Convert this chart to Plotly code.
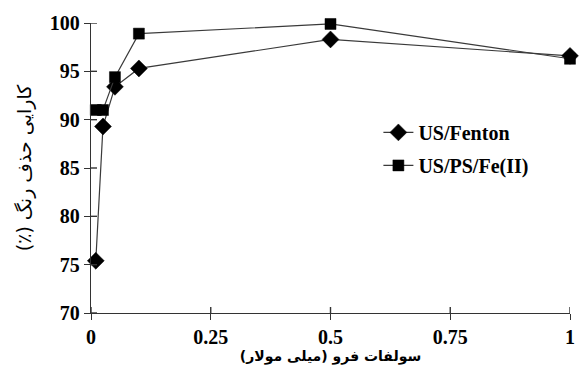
import plotly.graph_objects as go

# Ferrous sulfate dose (mM) and colour removal efficiency (%)
dose = [0.01, 0.025, 0.05, 0.1, 0.5, 1.0]
us_fenton = [75.4, 89.3, 93.4, 95.3, 98.3, 96.6]
us_ps_fe = [91.0, 91.0, 94.4, 98.9, 99.9, 96.3]

x_ticks = [0, 0.25, 0.5, 0.75, 1]
x_tick_text = ["0", "0.25", "0.5", "0.75", "1"]
y_ticks = [70, 75, 80, 85, 90, 95, 100]
x_range = [0, 1]
y_range = [70, 100]

serif = "Liberation Serif, Times New Roman, serif"
arabic = "DejaVu Sans"
axis_col = "#333333"
RLM = "\u200f"  # keeps the closing parenthesis inside the right-to-left run
TICK = 6

fig = go.Figure()
fig.add_trace(go.Scatter(
    x=dose, y=us_fenton, name="US/Fenton", mode="lines+markers",
    line=dict(color="#3a3a3a", width=1.2),
    marker=dict(symbol="diamond", size=13, color="black",
                line=dict(color="black", width=0.5)),
    cliponaxis=False, legendgroup="a",
))
fig.add_trace(go.Scatter(
    x=dose, y=us_ps_fe, name="US/PS/Fe(II)", mode="lines+markers",
    line=dict(color="#3a3a3a", width=1.2),
    marker=dict(symbol="square", size=11, color="black",
                line=dict(color="black", width=0.5)),
    cliponaxis=False, legendgroup="b",
))

# inner halves of the crossing tick marks, anchored at the axis lines
for xv in x_ticks:
    fig.add_shape(type="line", xref="x", yref="y", x0=xv, x1=xv,
                  ysizemode="pixel", yanchor=y_range[0], y0=0, y1=TICK,
                  line=dict(color=axis_col, width=1.4), layer="above")
for yv in y_ticks:
    fig.add_shape(type="line", xref="x", yref="y", y0=yv, y1=yv,
                  xsizemode="pixel", xanchor=x_range[0], x0=0, x1=TICK,
                  line=dict(color=axis_col, width=1.4), layer="above")

common = dict(showgrid=False, zeroline=False, ticklen=TICK, tickwidth=1.4,
              tickcolor=axis_col, ticks="outside", showline=True,
              linecolor=axis_col, linewidth=1.3)

fig.update_layout(
    width=581, height=374,
    margin=dict(l=91, r=6, t=23, b=61),
    paper_bgcolor="white", plot_bgcolor="white",
    font=dict(family=serif, color="black"),
    xaxis=dict(range=x_range, tickvals=x_ticks, ticktext=x_tick_text,
               tickfont=dict(family=serif, size=20, weight="bold",
                             color="black"),
               title=dict(text="سولفات فرو (میلی مولار)" + RLM, standoff=0,
                          font=dict(family=arabic, size=14, weight="bold",
                                    color="black")),
               **common),
    yaxis=dict(range=y_range, tickvals=y_ticks,
               tickfont=dict(family=serif, size=20, weight="bold",
                             color="black"),
               title=dict(text="کارایی حذف رنگ (٪)" + RLM, standoff=13,
                          font=dict(family=arabic, size=19, color="black")),
               **common),
    legend=dict(x=0.60, y=0.69, xanchor="left", yanchor="top",
                bgcolor="rgba(0,0,0,0)", tracegroupgap=4,
                traceorder="grouped",
                font=dict(family=serif, size=20, weight="bold",
                          color="black")),
    showlegend=True,
)

fig.write_html("out.html")
